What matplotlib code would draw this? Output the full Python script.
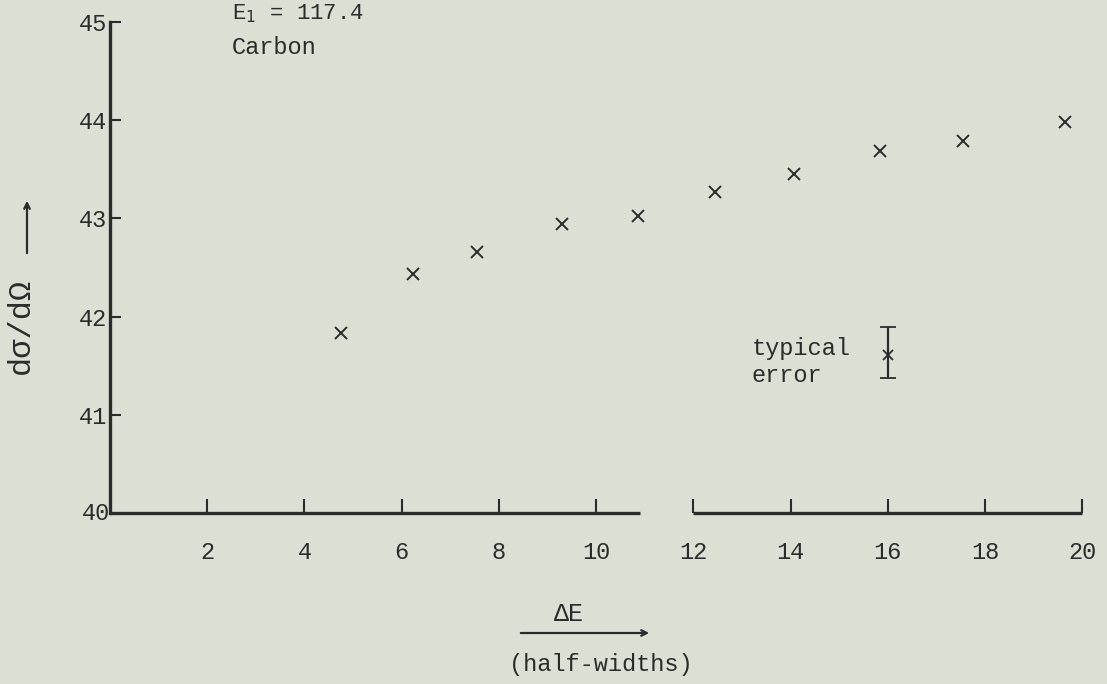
import matplotlib
matplotlib.use("Agg")
import matplotlib.pyplot as plt

# data
delta_e = [4.75, 6.23, 7.55, 9.30, 10.86, 12.45, 14.07, 15.84, 17.55, 19.65]
dsigma = [41.83, 42.43, 42.66, 42.94, 43.02, 43.27, 43.45, 43.69, 43.79, 43.98]

err_x = 16.0
err_y = 41.61
err_lo = 0.24
err_hi = 0.28

x_ticks = [2, 4, 6, 8, 10, 12, 14, 16, 18, 20]
y_ticks = [41, 42, 43, 44, 45]
x_break = (10.9, 12.0)  # gap in the hand drawn axis

bg = "#dcdfd4"
ink = "#2b2b2b"
mono = "Liberation Mono"

fig = plt.figure(figsize=(11.07, 6.84), dpi=100, facecolor=bg)
ax = fig.add_axes([110/1107, 171/684, 982/1107, 491/684])
ax.set_facecolor(bg)
ax.set_xlim(0, 20.2)
ax.set_ylim(40, 45)

ax.plot(delta_e, dsigma, "x", color=ink, markersize=9, markeredgewidth=1.4)

# typical error marker
ax.errorbar([err_x], [err_y], yerr=[[err_lo], [err_hi]], fmt="x", color=ink,
            markersize=7, markeredgewidth=1.3, capsize=6, capthick=2, elinewidth=1.6)
ax.text(err_x - 2.8, err_y + 0.07, "typical", family=mono, fontsize=17, color=ink,
        ha="left", va="center")
ax.text(err_x - 2.8, err_y - 0.21, "error", family=mono, fontsize=17, color=ink,
        ha="left", va="center")

# axes drawn by hand: broken x axis
for s in ["top", "right", "bottom"]:
    ax.spines[s].set_visible(False)
ax.spines["left"].set_linewidth(2.4)
ax.spines["left"].set_color(ink)
ax.hlines(40, 0, x_break[0], color=ink, linewidth=2.4, clip_on=False)
ax.hlines(40, x_break[1], 20, color=ink, linewidth=2.4, clip_on=False)

ax.set_xticks(x_ticks)
ax.set_xticklabels([str(t) for t in x_ticks], family=mono, fontsize=17, color=ink)
ax.set_yticks(y_ticks)
ax.set_yticklabels([str(t) for t in y_ticks], family=mono, fontsize=17, color=ink)
ax.tick_params(axis="x", direction="in", length=10, width=1.5, color=ink, pad=20)
ax.tick_params(axis="y", direction="in", length=8, width=1.5, color=ink, pad=2)
fig.text(110/1107, 1 - 513/684, "40", family=mono, fontsize=17, color=ink,
         ha="right", va="center")

# axis labels
fig.text(21/1107, 1 - 326/684, "d\u03c3/d\u03a9", family=mono, fontsize=23, color=ink,
         rotation=90, ha="center", va="center")
fig.add_artist(plt.Annotation("", xy=(27/1107, 1 - 198/684), xytext=(27/1107, 1 - 256/684),
                              xycoords="figure fraction",
                              arrowprops=dict(arrowstyle="->", color=ink, lw=1.6)))
fig.text(569/1107, 1 - 614/684, "\u0394E", family=mono, fontsize=18, color=ink,
         ha="center", va="center")
fig.add_artist(plt.Annotation("", xy=(652/1107, 1 - 633/684), xytext=(518/1107, 1 - 633/684),
                              xycoords="figure fraction",
                              arrowprops=dict(arrowstyle="->", color=ink, lw=1.6)))
fig.text(601/1107, 1 - 664/684, "(half-widths)", family=mono, fontsize=17, color=ink,
         ha="center", va="center")

# header (cut off at the top of the scan, kept readable here)
fig.text(232/1107, 1 - 19/684, "E$_1$ = 117.4", family=mono, fontsize=16, color=ink,
         ha="left", va="baseline")
fig.text(232/1107, 1 - 48/684, "Carbon", family=mono, fontsize=17, color=ink,
         ha="left", va="center")

fig.savefig("out.png", dpi=100, facecolor=bg)
